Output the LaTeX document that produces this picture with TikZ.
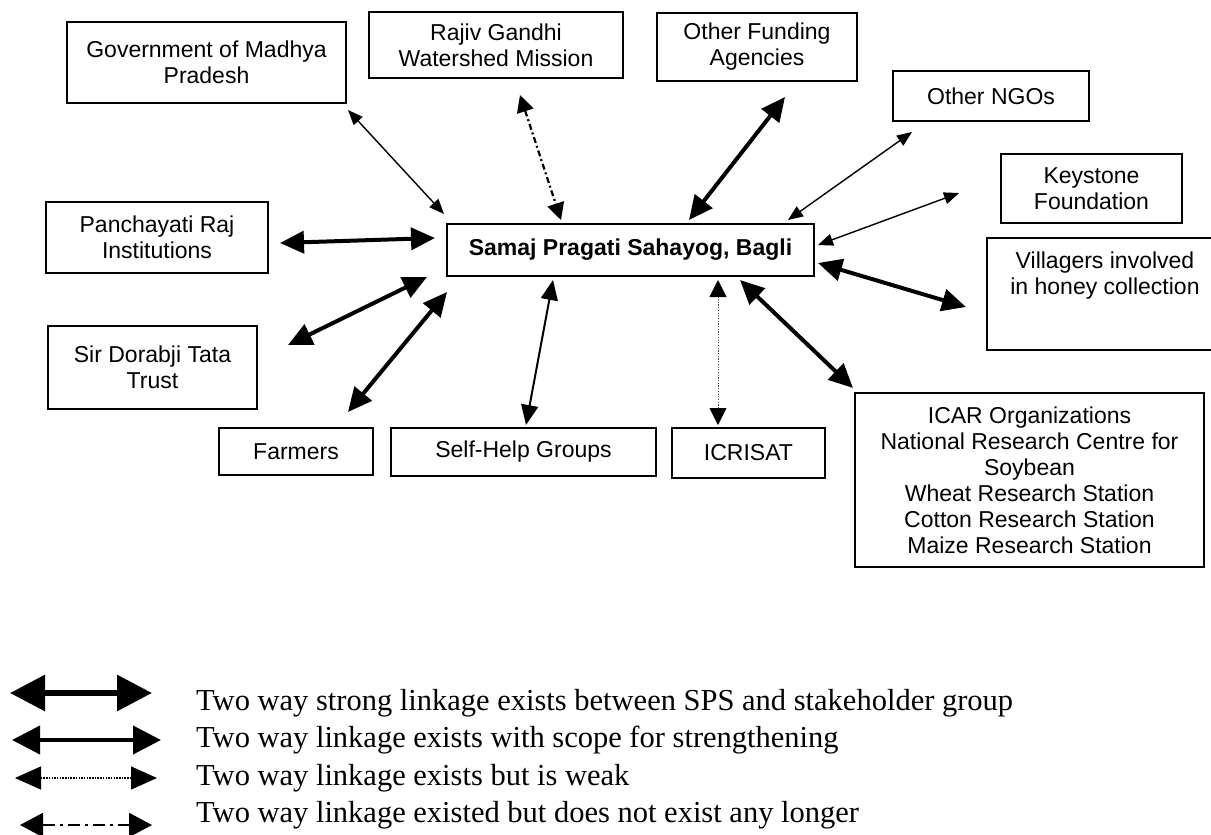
\documentclass[tikz,border=0pt]{standalone}
\usepackage{fontspec}
\setmainfont{Liberation Serif}
\newfontfamily\boxfont{Liberation Sans}
\usetikzlibrary{arrows.meta}
\begin{document}
\begin{tikzpicture}[x=1pt,y=-1pt,
  box/.style={draw, line width=1.7pt, align=center, inner sep=0pt,
    font=\boxfont\fontsize{23}{26}\selectfont},
  boxtext/.style={align=center, inner sep=0pt, font=\boxfont\fontsize{23}{26}\selectfont},
  strongarr/.style={line width=4pt, {Triangle[length=24pt,width=22pt]}-{Triangle[length=24pt,width=22pt]}},
  medarr/.style={line width=2pt, {Triangle[length=20pt,width=17pt]}-{Triangle[length=20pt,width=17pt]}},
  thinarr/.style={line width=1.4pt, {Triangle[length=15pt,width=12pt]}-{Triangle[length=15pt,width=12pt]}},
  dasharr/.style={line width=2.2pt, dash pattern=on 6pt off 3pt on 2pt off 3pt, {Triangle[length=17pt,width=17pt]}-{Triangle[length=17pt,width=17pt]}},
  dotarr/.style={line width=0.9pt, draw=black!70, dash pattern=on 1.2pt off 1.5pt, {Triangle[length=17pt,width=17pt,color=black]}-{Triangle[length=17pt,width=17pt,color=black]}},
  legtext/.style={anchor=base west, inner sep=0pt, font=\fontsize{30.5}{36}\selectfont}
]
\useasboundingbox (0,0) rectangle (1211,835);
\clip (0,0) rectangle (1211,835);

% boxes
\node[box, minimum width=279pt, minimum height=81pt] (gov) at (206.5,62.5) {Government of Madhya\\Pradesh};
\node[box, minimum width=254pt, minimum height=66pt] (rajiv) at (496,45) {Rajiv Gandhi\\Watershed Mission};
\node[box, minimum width=200pt, minimum height=68pt] (ofa) at (757,47) {Other Funding\\Agencies};
\node[box, minimum width=196pt, minimum height=50pt] (ngo) at (991,96) {Other NGOs};
\node[box, minimum width=181pt, minimum height=69pt] (key) at (1091.5,188.5) {Keystone\\Foundation};
\node[box, minimum width=236pt, minimum height=112pt] (vil) at (1105,294) {};
\node[boxtext] (viltext) at (1105,276) {Villagers involved\\in honey collection};
\node[box, minimum width=349pt, minimum height=174pt] (icar) at (1029.5,480) {ICAR Organizations\\National Research Centre for\\Soybean\\Wheat Research Station\\Cotton Research Station\\Maize Research Station};
\node[box, minimum width=222pt, minimum height=71pt] (pan) at (157,237.5) {Panchayati Raj\\Institutions};
\node[box, minimum width=209pt, minimum height=83pt] (sir) at (152.5,367.5) {Sir Dorabji Tata\\Trust};
\node[box, minimum width=154pt, minimum height=47pt] (farm) at (296,451.5) {Farmers};
\node[box, minimum width=265pt, minimum height=48pt] (shg) at (523.5,452) {Self-Help Groups};
\node[box, minimum width=153pt, minimum height=50pt] (icr) at (748.5,453) {ICRISAT};
\node[box, minimum width=367pt, minimum height=52pt, font=\boxfont\bfseries\fontsize{23}{26}\selectfont] (sps) at (630.5,250) {Samaj Pragati Sahayog, Bagli};

% connector end points
\coordinate (gov-e) at (348,110);   \coordinate (sps-gov) at (444,214);
\coordinate (rajiv-e) at (520,95);  \coordinate (sps-rajiv) at (561,220);
\coordinate (ofa-e) at (785,97);    \coordinate (sps-ofa) at (689,220);
\coordinate (ngo-e) at (912,132);   \coordinate (sps-ngo) at (788,220);
\coordinate (key-e) at (959,193);   \coordinate (sps-key) at (818,245);
\coordinate (vil-e) at (966,307);   \coordinate (sps-vil) at (818,263);
\coordinate (icar-e) at (853,388);  \coordinate (sps-icar) at (740,280);
\coordinate (icr-e) at (718,425);   \coordinate (sps-icr) at (718,280);
\coordinate (shg-e) at (526,425);   \coordinate (sps-shg) at (553,280);
\coordinate (farm-e) at (348,412);  \coordinate (sps-farm) at (447,292);
\coordinate (sir-e) at (288,345);   \coordinate (sps-sir) at (427,277);
\coordinate (pan-e) at (280,243);   \coordinate (sps-pan) at (435,238);

\draw[thinarr] (gov-e) -- (sps-gov);
\draw[dasharr] (rajiv-e) -- (sps-rajiv);
\draw[strongarr] (ofa-e) -- (sps-ofa);
\draw[thinarr] (ngo-e) -- (sps-ngo);
\draw[thinarr] (key-e) -- (sps-key);
\draw[strongarr] (vil-e) -- (sps-vil);
\draw[strongarr] (icar-e) -- (sps-icar);
\draw[dotarr] (icr-e) -- (sps-icr);
\draw[medarr] (shg-e) -- (sps-shg);
\draw[strongarr] (farm-e) -- (sps-farm);
\draw[strongarr] (sir-e) -- (sps-sir);
\draw[strongarr] (pan-e) -- (sps-pan);

% legend
\coordinate (l1a) at (10,693);  \coordinate (l1b) at (152,693);
\coordinate (l2a) at (12,740);  \coordinate (l2b) at (161,740);
\coordinate (l3a) at (15,778);  \coordinate (l3b) at (157,778);
\coordinate (l4a) at (20,825);  \coordinate (l4b) at (152,825);
\draw[line width=6pt, {Triangle[length=35pt,width=35pt]}-{Triangle[length=35pt,width=35pt]}] (l1a) -- (l1b);
\draw[line width=4pt, {Triangle[length=28pt,width=28pt]}-{Triangle[length=28pt,width=28pt]}] (l2a) -- (l2b);
\draw[line width=1.2pt, dash pattern=on 1.5pt off 1.2pt, {Triangle[length=26pt,width=23pt]}-{Triangle[length=26pt,width=23pt]}] (l3a) -- (l3b);
\draw[line width=2pt, dash pattern=on 12pt off 5pt on 3pt off 5pt, {Triangle[length=23pt,width=24pt]}-{Triangle[length=23pt,width=24pt]}] (l4a) -- (l4b);

\node[legtext] (t1) at (196,710) {Two way strong linkage exists between SPS and stakeholder group};
\node[legtext] (t2) at (196,747) {Two way linkage exists with scope for strengthening};
\node[legtext] (t3) at (196,785) {Two way linkage exists but is weak};
\node[legtext] (t4) at (196,822) {Two way linkage existed but does not exist any longer};
\end{tikzpicture}
\end{document}
